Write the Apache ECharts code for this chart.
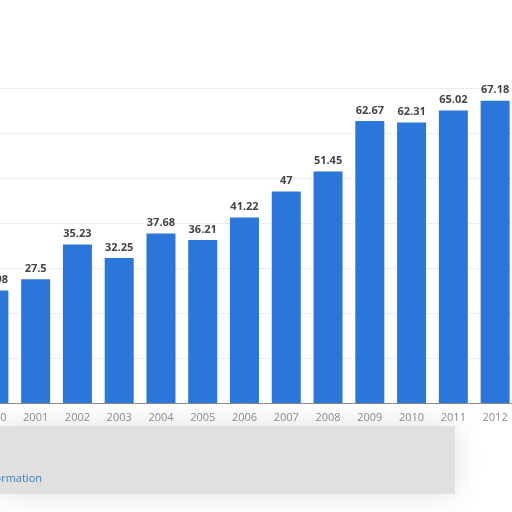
<!DOCTYPE html>
<html>
<head>
<meta charset="utf-8">
<script src="https://cdn.jsdelivr.net/npm/echarts@6/dist/echarts.min.js"></script>
<style>
html,body{margin:0;padding:0;background:#fff;overflow:hidden;width:512px;height:512px;}
#c{position:absolute;left:-27px;top:0;width:543px;height:512px;}
</style>
</head>
<body>
<div id="c"></div>
<script>
const categories = ['2000','2001','2002','2003','2004','2005','2006','2007','2008','2009','2010','2011','2012'];
const values = [24.98, 27.5, 35.23, 32.25, 37.68, 36.21, 41.22, 47, 51.45, 62.67, 62.31, 65.02, 67.18];
const valueTicks = [0, 10, 20, 30, 40, 50, 60, 70];

const OFF = 27;
const chart = echarts.init(document.getElementById('c'));
chart.setOption({
  backgroundColor: '#ffffff',
  animation: false,
  graphic: [
    {
      type: 'rect', z: -1,
      shape: { x: OFF + 0, y: 426, width: 455, height: 68 },
      style: { fill: '#e0e0e0', shadowBlur: 30, shadowColor: '#e0e0e0' }
    },
    {
      type: 'text', z: 5,
      x: OFF + 42, y: 479,
      style: { text: 'Additional Information', align: 'right', verticalAlign: 'middle',
        fill: '#3a7fb8', font: '11px "Open Sans", sans-serif' }
    }
  ],
  grid: { left: 0, right: 0, top: 88, bottom: 109, containLabel: false },
  xAxis: {
    type: 'category',
    data: categories,
    axisLine: { lineStyle: { color: '#8a8a8a', width: 1 } },
    axisTick: { show: false },
    axisLabel: { color: '#8a8a8a', fontSize: 11, margin: 9, fontFamily: 'Open Sans' }
  },
  yAxis: {
    type: 'value',
    min: valueTicks[0],
    max: valueTicks[valueTicks.length - 1],
    interval: 10,
    axisLabel: { show: false },
    axisLine: { show: false },
    axisTick: { show: false },
    splitLine: { lineStyle: { color: '#dadada', type: 'dotted' } }
  },
  series: [{
    type: 'bar',
    data: values,
    barWidth: 29,
    itemStyle: { color: '#2a76d9' },
    label: {
      show: true, position: 'top', distance: 5,
      color: '#444', fontWeight: 'bold', fontSize: 11, fontFamily: 'Open Sans'
    }
  }]
});
</script>
</body>
</html>
